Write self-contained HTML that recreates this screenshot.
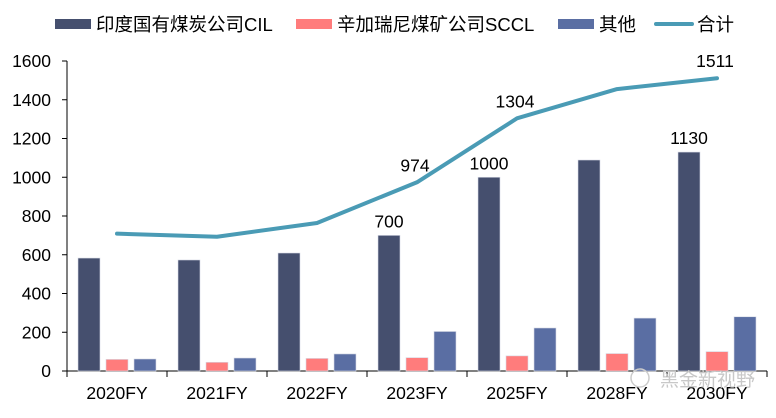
<!DOCTYPE html>
<html><head><meta charset="utf-8"><style>
body{margin:0;background:#fff;}
svg text{font-family:"Liberation Sans","Noto Sans CJK SC",sans-serif;fill:#000;}
</style></head><body>
<svg id="chart" width="776" height="413" xmlns="http://www.w3.org/2000/svg">
<g>
 <g><rect x="55" y="19" width="36" height="10" fill="#454f6e"/><text x="96" y="31" font-size="18.5">印度国有煤炭公司CIL</text></g>
 <g><rect x="296" y="19" width="36" height="10" fill="#ff7c7c"/><text x="337" y="31" font-size="18.5">辛加瑞尼煤矿公司SCCL</text></g>
 <g><rect x="558" y="19" width="36" height="10" fill="#5a6ea3"/><text x="599" y="31" font-size="18.5">其他</text></g>
 <g><line x1="656" y1="24" x2="692" y2="24" stroke="#4a9bb5" stroke-width="4" stroke-linecap="round"/><text x="697" y="31" font-size="18.5">合计</text></g>
</g>
<g id="yaxis"></g>
<g id="xaxis"></g>
<g id="bars"></g>
<g id="line"></g>
<g id="labels"></g>
<g>
<circle cx="640" cy="378" r="9" fill="none" stroke="#ccc" stroke-width="1.5"/>
<text x="660" y="386" font-size="19" style="fill:#c8c8c8">黑金新视野</text>
</g>
</svg>
<script>
const categories=["2020FY","2021FY","2022FY","2023FY","2025FY","2028FY","2030FY"];
const cilValues=[583,573,609,700,1000,1089,1130];
const scclValues=[60,45,65,69,78,90,100];
const otherValues=[62,67,88,204,222,273,280];
const totalValues=[709,693,764,974,1304,1455,1511];
const yTicks=[0,200,400,600,800,1000,1200,1400,1600];
const cilLabels=[null,null,null,"700","1000",null,"1130"];
const totalLabels=[null,null,null,"974","1304",null,"1511"];

const NS="http://www.w3.org/2000/svg";
const x0=67,bw=100,y0=371,yScale=310/1600;
const yPos=v=>y0-v*yScale;
const xBand=i=>x0+i*bw;
function mk(tag,attrs,parent){const e=document.createElementNS(NS,tag);for(const k in attrs)e.setAttribute(k,attrs[k]);parent.appendChild(e);return e;}
const ya=document.getElementById('yaxis'),xa=document.getElementById('xaxis'),bars=document.getElementById('bars'),ln=document.getElementById('line'),lb=document.getElementById('labels');
mk('line',{x1:x0,y1:yPos(1600),x2:x0,y2:y0,stroke:'#000','stroke-width':1},ya);
yTicks.forEach(t=>{
 mk('line',{x1:x0-5,y1:yPos(t),x2:x0,y2:yPos(t),stroke:'#000'},ya);
 const tx=mk('text',{x:51,y:yPos(t)+6,'font-size':17.5,'text-anchor':'end'},ya);
 
 
 tx.textContent=t;
});
mk('line',{x1:x0,y1:y0,x2:x0+bw*categories.length,y2:y0,stroke:'#000'},xa);
categories.forEach((c,i)=>{
 mk('line',{x1:xBand(i),y1:y0,x2:xBand(i),y2:y0+6,stroke:'#000'},xa);
 const tx=mk('text',{x:xBand(i)+bw/2,y:y0+28,'font-size':17.5,'text-anchor':'middle'},xa);
 
 
 tx.textContent=c;
});
mk('line',{x1:xBand(categories.length),y1:y0,x2:xBand(categories.length),y2:y0+6,stroke:'#000'},xa);
const series=[[cilValues,'#454f6e','bar-cil'],[scclValues,'#ff7c7c','bar-sccl'],[otherValues,'#5a6ea3','bar-other']];
categories.forEach((c,i)=>{
 series.forEach((s,j)=>{
  const v=s[0][i];
  const r=mk('rect',{x:xBand(i)+11+j*28,y:yPos(v),width:22,height:v*yScale,fill:s[1],stroke:'#d8dbe6','stroke-width':0.6},bars);
  
  
 });
 if(cilLabels[i]){
  const t=mk('text',{x:xBand(i)+22,y:yPos(cilValues[i])-8,'font-size':17.5,'text-anchor':'middle'},lb);
  
  
  t.textContent=cilLabels[i];
 }
 if(totalLabels[i]){
  const t=mk('text',{x:xBand(i)+bw/2-2,y:yPos(totalValues[i])-11,'font-size':17.5,'text-anchor':'middle'},lb);
  
  
  t.textContent=totalLabels[i];
 }
});
const pts=totalValues.map((v,i)=>(xBand(i)+bw/2)+','+yPos(v)).join(' ');
const pl=mk('polyline',{points:pts,fill:'none',stroke:'#4a9bb5','stroke-width':4,'stroke-linejoin':'round','stroke-linecap':'round'},ln);


</script>
</body></html>
